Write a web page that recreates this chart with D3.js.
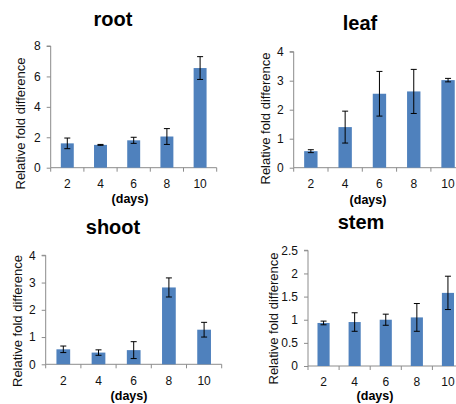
<!DOCTYPE html>
<html>
<head>
<meta charset="utf-8">
<script src="https://cdn.jsdelivr.net/npm/d3@7/dist/d3.min.js"></script>
<style>
  body { margin: 0; background: #fff; }
  svg { display: block; font-family: "Liberation Sans", Arial, sans-serif; }
  .axis path, .axis line { stroke: #8c8c8c; }
  .axis text { font-size: 12px; fill: #111; }
  .title { font-size: 20px; font-weight: bold; }
  .ylabel { font-size: 13px; fill: #111; }
  .xlabel { font-size: 12.5px; font-weight: bold; }
</style>
</head>
<body>
<div id="chart"></div>
<script>
// Data
var DAYS = [2, 4, 6, 8, 10];

var ROOT_MEAN = [1.6, 1.5, 1.8, 2.05, 6.55];
var ROOT_ERR = [0.35, 0.03, 0.2, 0.52, 0.75];
var ROOT_TICKS = [0, 2, 4, 6, 8];

var LEAF_MEAN = [0.57, 1.4, 2.55, 2.63, 3.02];
var LEAF_ERR = [0.05, 0.55, 0.77, 0.76, 0.06];
var LEAF_TICKS = [0, 1, 2, 3, 4];

var SHOOT_MEAN = [0.55, 0.43, 0.52, 2.82, 1.27];
var SHOOT_ERR = [0.12, 0.1, 0.31, 0.35, 0.27];
var SHOOT_TICKS = [0, 1, 2, 3, 4];

var STEM_MEAN = [0.93, 0.95, 1.0, 1.05, 1.58];
var STEM_ERR = [0.04, 0.2, 0.12, 0.3, 0.36];
var STEM_TICKS = [0, 0.5, 1, 1.5, 2, 2.5];

var BAR_COLOR = "#4f81bd";

// Panel layout (pixel positions in the 456x404 frame)
var PANELS = [
  { title: "root", mean: ROOT_MEAN, err: ROOT_ERR, ticks: ROOT_TICKS,
    x0: 50.7, x1: 216.7, y0: 167.7, y1: 46,
    titleX: 113, titleY: 26, labelX: 20, labelY: 123.5,
    tickY: 188, daysX: 130, daysY: 203 },
  { title: "leaf", mean: LEAF_MEAN, err: LEAF_ERR, ticks: LEAF_TICKS,
    x0: 293.7, x1: 465.2, y0: 167.7, y1: 51.7,
    titleX: 360, titleY: 30, labelX: 265, labelY: 118.5,
    tickY: 188, daysX: 368, daysY: 204 },
  { title: "shoot", mean: SHOOT_MEAN, err: SHOOT_ERR, ticks: SHOOT_TICKS,
    x0: 45.7, x1: 221.7, y0: 364.3, y1: 255.3,
    titleX: 113, titleY: 234, labelX: 17.5, labelY: 321,
    tickY: 384.5, daysX: 129, daysY: 400 },
  { title: "stem", mean: STEM_MEAN, err: STEM_ERR, ticks: STEM_TICKS,
    x0: 308, x1: 463.5, y0: 366, y1: 250.3,
    titleX: 361, titleY: 229, labelX: 273, labelY: 318.5,
    tickY: 386, daysX: 375, daysY: 400 }
];

var svg = d3.select("#chart")
  .append("svg")
  .attr("width", 456)
  .attr("height", 404);

var fmt = function(d) { return String(d); };

PANELS.forEach(function(p) {
  var g = svg.append("g");

  var xScale = d3.scaleBand()
    .domain(DAYS)
    .range([p.x0, p.x1])
    .paddingInner(0.61)
    .paddingOuter(0.305);

  var yMax = p.ticks[p.ticks.length - 1];
  var yScale = d3.scaleLinear()
    .domain([0, yMax])
    .range([p.y0, p.y1]);

  var step = xScale.step();

  // Y axis
  g.append("g")
    .attr("class", "axis y")
    .attr("transform", "translate(" + p.x0 + ",0)")
    .call(d3.axisLeft(yScale).tickValues(p.ticks).tickSize(4).tickPadding(6).tickFormat(fmt))
    .call(function(a) { a.select(".domain").attr("d", "M-4," + yScale(yMax) + "H0V" + p.y0); });

  // X axis line + boundary ticks
  var xAxis = g.append("g").attr("class", "axis x");
  xAxis.append("path")
    .attr("fill", "none")
    .attr("d", "M" + p.x0 + "," + p.y0 + "H" + p.x1);
  xAxis.selectAll("line")
    .data(d3.range(DAYS.length + 1))
    .enter()
    .append("line")
    .attr("x1", function(i) { return p.x0 + i * step; })
    .attr("x2", function(i) { return p.x0 + i * step; })
    .attr("y1", p.y0)
    .attr("y2", p.y0 + 4);
  xAxis.selectAll("text")
    .data(DAYS)
    .enter()
    .append("text")
    .attr("x", function(d) { return xScale(d) + xScale.bandwidth() / 2; })
    .attr("y", p.tickY)
    .attr("text-anchor", "middle")
    .text(function(d) { return d; });

  // Bars
  g.selectAll("rect.bar")
    .data(DAYS)
    .enter()
    .append("rect")
    .attr("class", "bar")
    .attr("x", function(d) { return xScale(d); })
    .attr("width", xScale.bandwidth())
    .attr("y", function(d, i) { return yScale(p.mean[i]); })
    .attr("height", function(d, i) { return p.y0 - yScale(p.mean[i]); })
    .attr("fill", BAR_COLOR);

  // Error bars
  var cap = 3;
  var eb = g.selectAll("g.err")
    .data(DAYS)
    .enter()
    .append("g")
    .attr("class", "err")
    .attr("stroke", "#000")
    .attr("stroke-width", 1);
  eb.append("line")
    .attr("x1", function(d) { return xScale(d) + xScale.bandwidth() / 2; })
    .attr("x2", function(d) { return xScale(d) + xScale.bandwidth() / 2; })
    .attr("y1", function(d, i) { return yScale(p.mean[i] - p.err[i]); })
    .attr("y2", function(d, i) { return yScale(p.mean[i] + p.err[i]); });
  [1, -1].forEach(function(sign) {
    eb.append("line")
      .attr("x1", function(d) { return xScale(d) + xScale.bandwidth() / 2 - cap; })
      .attr("x2", function(d) { return xScale(d) + xScale.bandwidth() / 2 + cap; })
      .attr("y1", function(d, i) { return yScale(p.mean[i] + sign * p.err[i]); })
      .attr("y2", function(d, i) { return yScale(p.mean[i] + sign * p.err[i]); });
  });

  // Labels
  g.append("text")
    .attr("class", "title")
    .attr("x", p.titleX)
    .attr("y", p.titleY)
    .attr("text-anchor", "middle")
    .text(p.title);

  g.append("text")
    .attr("class", "ylabel")
    .attr("transform", "translate(" + p.labelX + "," + p.labelY + ") rotate(-90)")
    .attr("text-anchor", "middle")
    .attr("dy", "0.35em")
    .text("Relative fold difference");

  g.append("text")
    .attr("class", "xlabel")
    .attr("x", p.daysX)
    .attr("y", p.daysY)
    .attr("text-anchor", "middle")
    .text("(days)");
});
</script>
</body>
</html>
